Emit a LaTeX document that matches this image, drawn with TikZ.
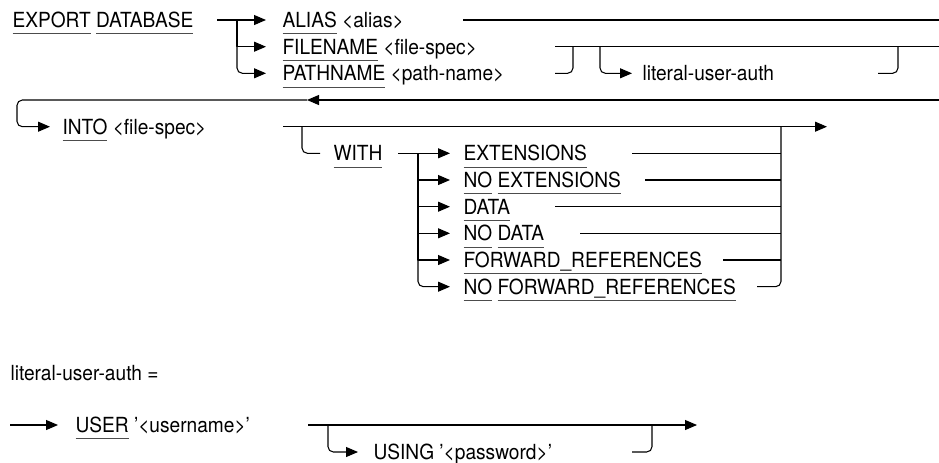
\documentclass[tikz,border=0pt]{standalone}
\usepackage{fontspec}
\setmainfont{TeX Gyre Heros}[FakeStretch=0.92]
\usepackage{xcolor}
\usepackage{tikz}
\usetikzlibrary{arrows.meta,calc}

\newcommand{\kw}[1]{\setbox0=\hbox{#1}\rlap{\color{black!70}\rule[-5pt]{\wd0}{0.7pt}}\box0\relax}

\begin{document}
\begin{tikzpicture}[x=0.75pt,y=-0.75pt,>={Triangle[length=9pt,width=7.5pt]},line join=round,line width=0.8pt,
  syn/.style={anchor=west,inner sep=0pt,text height=11.2pt,text depth=0pt,font=\fontsize{15.6}{18}\selectfont},
  railbend/.style={rounded corners=4pt}]
  \useasboundingbox (0,0) rectangle (939,462);
  \node[syn] (export) at (12,20) {\kw{EXPORT} \kw{DATABASE}};
  \node[syn] (alias) at (282,20) {\kw{ALIAS} <alias>};
  \node[syn] (filename) at (282,46.7) {\kw{FILENAME} <file-spec>};
  \node[syn] (pathname) at (282,73.3) {\kw{PATHNAME} <path-name>};
  \coordinate (s0) at (217,20);
  \coordinate (b0) at (237,20);
  \draw[->] (s0) -- ([xshift=-12pt]alias.west);
  \draw[->] (b0) |- ([xshift=-12pt]filename.west);
  \draw[->,railbend] (b0) |- ([xshift=-12pt]pathname.west);
  \coordinate (a1) at (463,20);
  \coordinate (a2) at (939,20);
  \draw (a1) -- (a2);
  \coordinate (f1) at (555,46.7);
  \coordinate (p1) at (555,73.3);
  \coordinate (j1) at (573,46.7);
  \coordinate (e1) at (939,46.7);
  \draw (f1) -- (e1);
  \draw[railbend] (p1) -| (j1);
  \coordinate (l0) at (600,46.7);
  \node[syn] (lua) at (642,73.3) {literal-user-auth};
  \draw[->,railbend] (l0) |- ([xshift=-7.5pt]lua.west);
  \coordinate (l1) at (878,73.3);
  \coordinate (l2) at (898,46.7);
  \draw[railbend] (l1) -| (l2);
  \coordinate (r0) at (939,100);
  \coordinate (r1) at (307,100);
  \coordinate (r2) at (17,100);
  \node[syn] (into) at (62,126.7) {\kw{INTO} <file-spec>};
  \draw[->] (r0) -- (r1);
  \draw[->,railbend] (r1) -- (r2) |- ([xshift=-9pt]into.west);
  \coordinate (i1) at (283,126.7);
  \coordinate (i2) at (827,126.7);
  \draw[->] (i1) -- (i2);
  \coordinate (w0) at (302,126.7);
  \node[syn] (with) at (333,153.3) {\kw{WITH}};
  \draw[railbend] (w0) |- ([xshift=-9.75pt]with.west);
  \node[syn] (ext) at (463,153.3) {\kw{EXTENSIONS}};
  \node[syn] (noext) at (463,180) {\kw{NO} \kw{EXTENSIONS}};
  \node[syn] (data) at (463,206.7) {\kw{DATA}};
  \node[syn] (nodata) at (463,233.3) {\kw{NO} \kw{DATA}};
  \node[syn] (fwd) at (463,260) {\kw{FORWARD\_REFERENCES}};
  \node[syn] (nofwd) at (463,286.7) {\kw{NO} \kw{FORWARD\_REFERENCES}};
  \coordinate (w1) at (398,153.3);
  \coordinate (w2) at (418,153.3);
  \draw[->] (w1) -- ([xshift=-9.75pt]ext.west);
  \draw[->] (w2) |- ([xshift=-9.75pt]noext.west);
  \draw[->] (w2) |- ([xshift=-9.75pt]data.west);
  \draw[->] (w2) |- ([xshift=-9.75pt]nodata.west);
  \draw[->] (w2) |- ([xshift=-9.75pt]fwd.west);
  \draw[->,railbend] (w2) |- ([xshift=-9.75pt]nofwd.west);
  \coordinate (k0) at (781,126.7);
  \coordinate (t1) at (632,153.3);
  \coordinate (t2) at (645,180);
  \coordinate (t3) at (555,206.7);
  \coordinate (t4) at (580,233.3);
  \coordinate (t5) at (723,260);
  \coordinate (t6) at (757,286.7);
  \draw (t1) -- (t1 -| k0);
  \draw (t2) -- (t2 -| k0);
  \draw (t3) -- (t3 -| k0);
  \draw (t4) -- (t4 -| k0);
  \draw (t5) -- (t5 -| k0);
  \draw[railbend] (t6) -| (k0);
  \node[syn] (luadef) at (10,373) {literal-user-auth =};
  \coordinate (u0) at (10,425);
  \node[syn] (user) at (75,425) {\kw{USER} '<username>'};
  \draw[->] (u0) -- ([xshift=-12.75pt]user.west);
  \coordinate (u1) at (308,425);
  \coordinate (u2) at (697,425);
  \draw[->] (u1) -- (u2);
  \coordinate (u3) at (328,425);
  \node[syn] (using) at (373,452) {USING '<password>'};
  \draw[->,railbend] (u3) |- ([xshift=-11.25pt]using.west);
  \coordinate (u4) at (632,452);
  \coordinate (u5) at (652,425);
  \draw[railbend] (u4) -| (u5);
\end{tikzpicture}
\end{document}
